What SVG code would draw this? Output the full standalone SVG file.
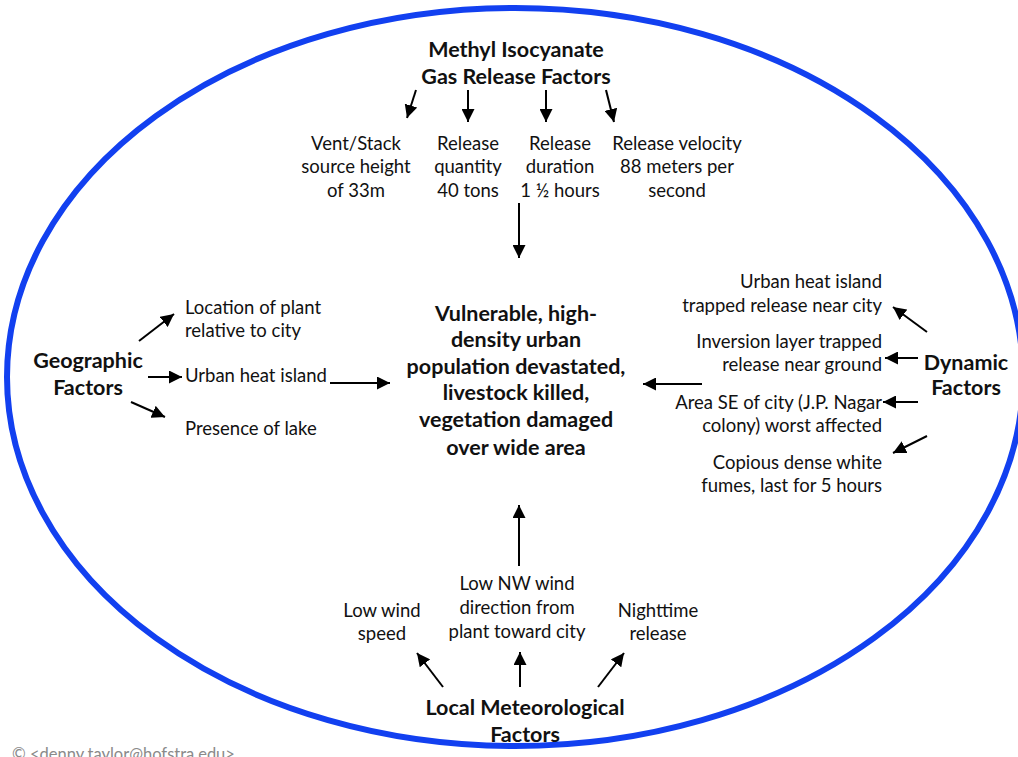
<svg xmlns="http://www.w3.org/2000/svg" width="1018" height="757" viewBox="0 0 1018 757">
  <style>
    text { font-family: Lato, "Open Sans", "Liberation Sans", sans-serif; fill: #111; }
    .t { font-size: 18.5px; }
    .b { font-size: 21.5px; font-weight: bold; }
    .c { text-anchor: middle; }
    .r { text-anchor: end; }
    .conn line { stroke: #000; stroke-width: 2; marker-end: url(#ah); }
    .copy { font-size: 16.5px; fill: #8a8a8a; }
  </style>
  <defs>
    <marker id="ah" viewBox="0 0 12 12" refX="12" refY="6" markerWidth="13" markerHeight="13" markerUnits="userSpaceOnUse" orient="auto">
      <path d="M0,0 L12,6 L0,12 z" fill="#000"/>
    </marker>
  </defs>

  <rect width="1018" height="757" fill="#fff"/>

  <!-- boundary ellipse -->
  <ellipse cx="515" cy="377" rx="508" ry="369" fill="none" stroke="#1240f0" stroke-width="6"/>

  <!-- release factors -->
  <g id="release-factors">
    <text class="b c" x="516" y="57">Methyl Isocyanate</text>
    <text class="b c" x="516" y="84">Gas Release Factors</text>
  </g>
  <g id="vent-stack">
    <text class="t c" x="356" y="150">Vent/Stack</text>
    <text class="t c" x="356" y="173">source height</text>
    <text class="t c" x="356" y="197">of 33m</text>
  </g>
  <g id="release-quantity">
    <text class="t c" x="468" y="150">Release</text>
    <text class="t c" x="468" y="173">quantity</text>
    <text class="t c" x="468" y="197">40 tons</text>
  </g>
  <g id="release-duration">
    <text class="t c" x="560" y="150">Release</text>
    <text class="t c" x="560" y="173">duration</text>
    <text class="t c" x="560" y="197">1 ½ hours</text>
  </g>
  <g id="release-velocity">
    <text class="t c" x="677" y="150">Release velocity</text>
    <text class="t c" x="677" y="173">88 meters per</text>
    <text class="t c" x="677" y="197">second</text>
  </g>

  <!-- outcome -->
  <g id="outcome">
    <text class="b c" x="516" y="321">Vulnerable, high-</text>
    <text class="b c" x="516" y="347">density urban</text>
    <text class="b c" x="516" y="374">population devastated,</text>
    <text class="b c" x="516" y="400">livestock killed,</text>
    <text class="b c" x="516" y="427">vegetation damaged</text>
    <text class="b c" x="516" y="455">over wide area</text>
  </g>

  <!-- geographic factors -->
  <g id="geographic-factors">
    <text class="b c" x="88" y="368">Geographic</text>
    <text class="b c" x="88" y="395">Factors</text>
  </g>
  <g id="plant-location">
    <text class="t" x="185" y="314">Location of plant</text>
    <text class="t" x="185" y="337">relative to city</text>
  </g>
  <g id="urban-heat-island">
    <text class="t" x="185" y="382">Urban heat island</text>
  </g>
  <g id="lake">
    <text class="t" x="185" y="435">Presence of lake</text>
  </g>

  <!-- dynamic factors -->
  <g id="dynamic-factors">
    <text class="b c" x="966" y="370">Dynamic</text>
    <text class="b c" x="966" y="395">Factors</text>
  </g>
  <g id="heat-island-trap">
    <text class="t r" x="882" y="288">Urban heat island</text>
    <text class="t r" x="882" y="312">trapped release near city</text>
  </g>
  <g id="inversion-layer">
    <text class="t r" x="882" y="348">Inversion layer trapped</text>
    <text class="t r" x="882" y="371">release near ground</text>
  </g>
  <g id="worst-area">
    <text class="t r" x="882" y="409">Area SE of city (J.P. Nagar</text>
    <text class="t r" x="882" y="432">colony) worst affected</text>
  </g>
  <g id="fumes">
    <text class="t r" x="882" y="469">Copious dense white</text>
    <text class="t r" x="882" y="492">fumes, last for 5 hours</text>
  </g>

  <!-- meteorological factors -->
  <g id="meteorological-factors">
    <text class="b c" x="525" y="715">Local Meteorological</text>
    <text class="b c" x="525" y="742">Factors</text>
  </g>
  <g id="wind-speed">
    <text class="t c" x="382" y="617">Low wind</text>
    <text class="t c" x="382" y="640">speed</text>
  </g>
  <g id="wind-direction">
    <text class="t c" x="517" y="590">Low NW wind</text>
    <text class="t c" x="517" y="614">direction from</text>
    <text class="t c" x="517" y="638">plant toward city</text>
  </g>
  <g id="nighttime">
    <text class="t c" x="658" y="617">Nighttime</text>
    <text class="t c" x="658" y="640">release</text>
  </g>

  <!-- connectors -->
  <g id="connectors" class="conn">
    <line x1="416" y1="90" x2="407" y2="118"/>
    <line x1="468" y1="90" x2="468" y2="122"/>
    <line x1="546" y1="90" x2="546" y2="122"/>
    <line x1="606" y1="90" x2="614" y2="122"/>
    <line x1="519" y1="203" x2="519" y2="258"/>

    <line x1="139" y1="341" x2="174" y2="314"/>
    <line x1="148" y1="377" x2="182" y2="377"/>
    <line x1="131" y1="402" x2="165" y2="417"/>
    <line x1="330" y1="383" x2="390" y2="383"/>

    <line x1="927" y1="332" x2="893" y2="307"/>
    <line x1="918" y1="358" x2="885" y2="358"/>
    <line x1="918" y1="402" x2="883" y2="402"/>
    <line x1="927" y1="436" x2="893" y2="453"/>
    <line x1="702" y1="384" x2="643" y2="384"/>

    <line x1="519" y1="566" x2="519" y2="505"/>
    <line x1="443" y1="687" x2="417" y2="653"/>
    <line x1="520" y1="687" x2="520" y2="652"/>
    <line x1="598" y1="687" x2="624" y2="653"/>
  </g>

  <text class="copy" x="12" y="760">© &lt;denny.taylor@hofstra.edu&gt;</text>
</svg>
